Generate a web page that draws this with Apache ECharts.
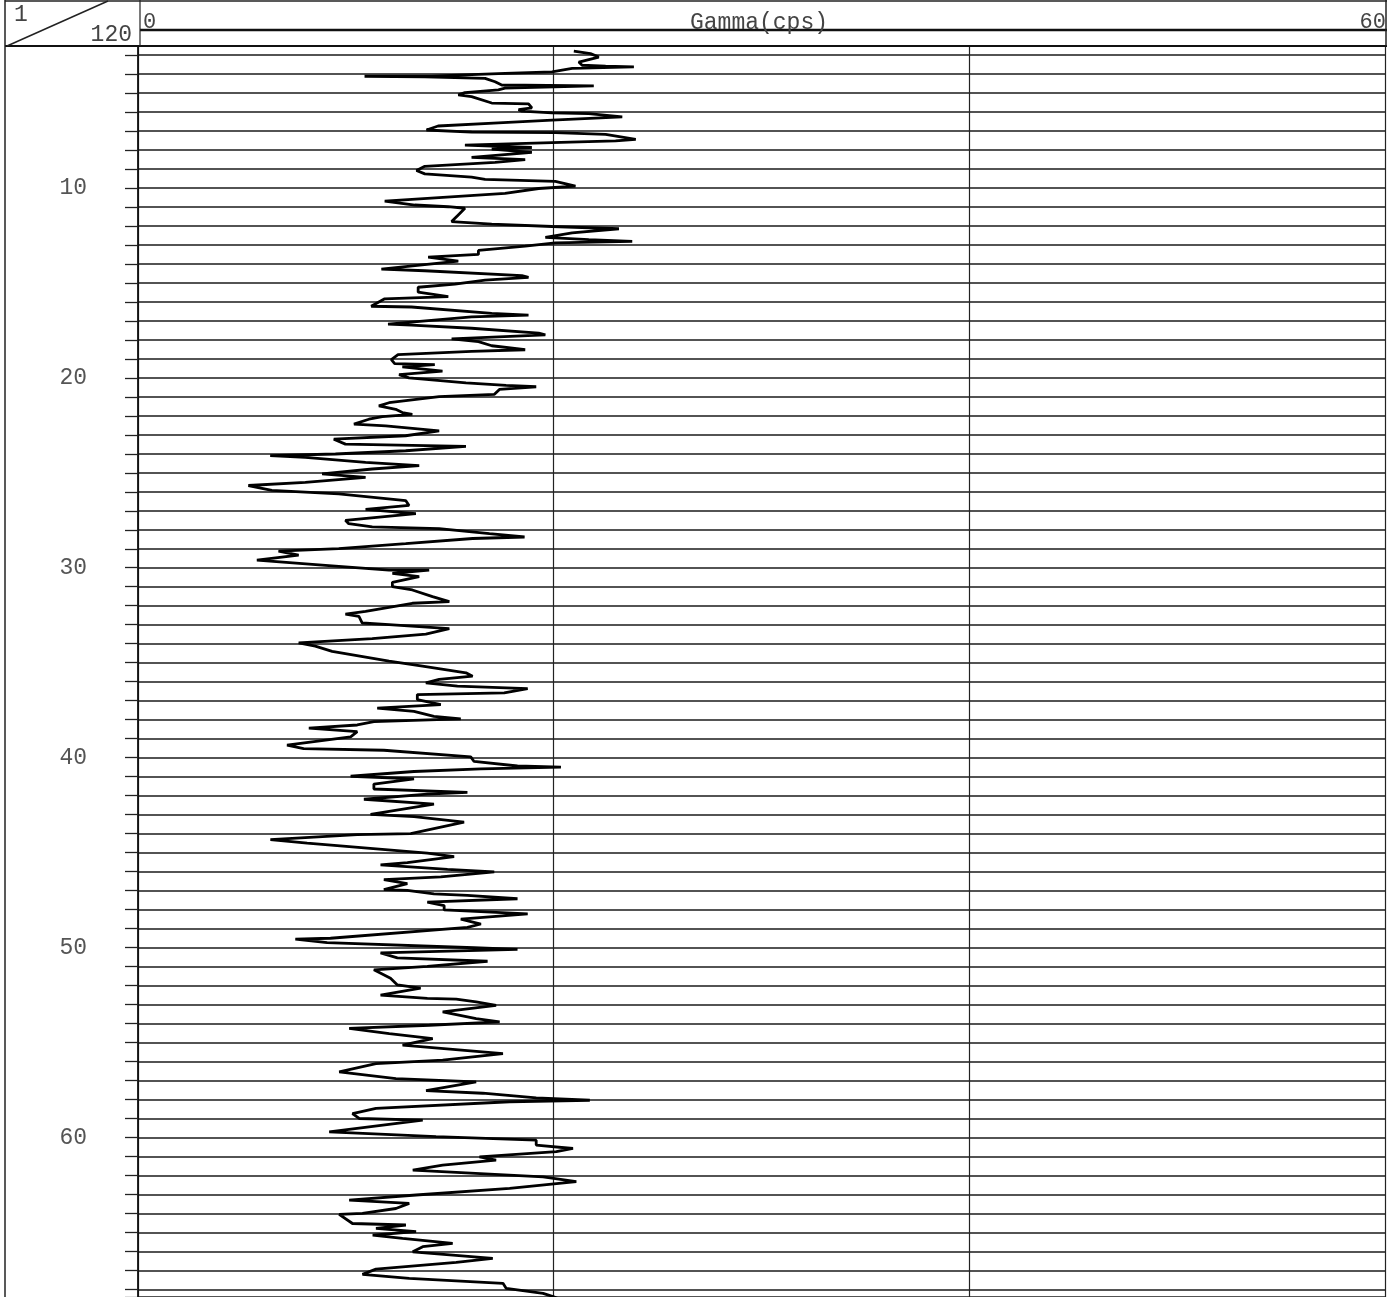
<!DOCTYPE html>
<html>
<head>
<meta charset="utf-8">
<title>Gamma log</title>
<script src="https://cdn.jsdelivr.net/npm/echarts/dist/echarts.min.js"></script>
<style>
  html, body { margin: 0; padding: 0; background: #fff; }
  #log_chart { width: 1391px; height: 1297px; }
</style>
</head>
<body>
<div id="log_chart"></div>
<script>
var depthM = [
  2.80, 2.93, 3.11, 3.37, 3.54, 3.59, 3.63, 3.71, 3.89, 3.97, 4.11, 4.12, 4.15, 4.23, 4.41, 4.58, 4.63, 4.75, 4.84, 4.98,
  5.10, 5.19, 5.53, 5.57, 5.79, 5.88, 5.96, 6.05, 6.09, 6.26, 6.43, 6.57, 6.74, 6.95, 7.06, 7.09, 7.18, 7.44, 7.52, 7.61,
  7.75, 7.87, 7.96, 8.13, 8.39, 8.51, 8.65, 8.86, 9.08, 9.26, 9.43, 9.55, 9.65, 9.90, 10.03, 10.29, 10.69, 10.90, 10.99, 11.07,
  11.42, 11.77, 11.91, 12.03, 12.15, 12.37, 12.60, 12.72, 12.81, 12.89, 13.07, 13.29, 13.50, 13.64, 13.85, 14.28, 14.36, 14.62, 14.71, 14.85,
  15.06, 15.23, 15.49, 15.72, 15.84, 16.23, 16.27, 16.61, 16.70, 16.79, 17.17, 17.22, 17.39, 17.65, 17.74, 17.95, 18.09, 18.31, 18.52, 18.61,
  18.78, 19.04, 19.25, 19.30, 19.35, 19.42, 19.65, 19.83, 20.00, 20.26, 20.40, 20.47, 20.61, 20.87, 20.99, 21.31, 21.48, 21.66, 21.83, 21.92,
  22.04, 22.18, 22.44, 22.53, 22.79, 23.05, 23.23, 23.49, 23.61, 23.84, 24.01, 24.10, 24.19, 24.45, 24.62, 24.80, 25.06, 25.24, 25.50, 25.67,
  25.93, 26.11, 26.46, 26.72, 26.93, 27.15, 27.50, 27.68, 27.85, 27.94, 28.20, 28.38, 28.46, 28.73, 28.99, 29.13, 29.34, 29.60, 29.86, 30.12,
  30.13, 30.30, 30.47, 30.77, 30.99, 31.17, 31.52, 31.78, 31.87, 32.30, 32.44, 32.56, 32.91, 33.00, 33.21, 33.49, 33.73, 33.96, 34.13, 34.40,
  34.92, 35.18, 35.53, 35.71, 35.88, 36.06, 36.23, 36.36, 36.59, 36.68, 36.94, 37.21, 37.39, 37.56, 37.83, 37.96, 38.10, 38.28, 38.45, 38.63,
  38.90, 39.34, 39.52, 39.61, 39.96, 40.20, 40.44, 40.50, 40.59, 40.73, 40.98, 41.12, 41.39, 41.65, 41.83, 41.92, 42.19, 42.45, 42.99, 43.11,
  43.40, 44.00, 44.05, 44.32, 44.50, 45.03, 45.21, 45.53, 45.65, 45.88, 46.01, 46.28, 46.42, 46.63, 46.95, 46.99, 47.17, 47.25, 47.43, 47.61,
  47.79, 48.02, 48.23, 48.50, 48.76, 48.94, 49.51, 49.56, 49.74, 50.01, 50.10, 50.28, 50.54, 50.72, 50.99, 51.17, 51.61, 51.97, 52.14, 52.50,
  52.68, 52.72, 52.86, 53.04, 53.39, 53.74, 53.91, 54.09, 54.26, 54.53, 54.79, 55.14, 55.58, 55.93, 56.11, 56.54, 56.90, 57.07, 57.53, 57.67,
  57.91, 58.04, 58.12, 58.47, 58.74, 59.00, 59.09, 59.70, 59.96, 60.14, 60.40, 60.58, 60.75, 61.02, 61.19, 61.46, 61.72, 62.07, 62.33, 62.68,
  63.03, 63.30, 63.47, 63.74, 64.00, 64.05, 64.53, 64.61, 64.79, 64.96, 65.14, 65.31, 65.58, 65.75, 66.02, 66.37, 66.58, 66.93, 67.21, 67.42,
  67.68, 67.95, 68.21, 68.38, 68.60
];
var gammaCps = [
  20.97, 21.77, 22.17, 21.21, 21.37, 22.5, 23.86, 20.89, 19.92, 17.66, 14.12, 10.9, 13.8, 16.7, 17.18, 17.5, 21.93, 17.66, 17.34, 15.73,
  15.41, 16.05, 17.02, 18.79, 18.95, 18.31, 18.47, 19.92, 21.69, 23.3, 19.92, 17.34, 14.44, 13.88, 16.05, 20.08, 22.5, 23.95, 22.98, 19.92,
  15.73, 18.95, 17.02, 18.95, 16.05, 18.63, 17.18, 13.8, 13.4, 13.8, 16.05, 16.7, 20.08, 21.05, 19.28, 17.66, 11.87, 13.32, 14.93, 15.73,
  15.41, 15.09, 17.02, 19.92, 23.14, 20.89, 19.6, 21.69, 23.78, 20.08, 18.63, 16.38, 16.38, 13.96, 15.41, 11.71, 13.8, 18.47, 18.79, 16.7,
  15.25, 13.48, 13.48, 14.93, 11.87, 11.22, 13.16, 17.02, 18.79, 16.05, 12.03, 13.16, 16.05, 19.28, 19.6, 15.09, 16.38, 17.02, 18.63, 16.05,
  12.51, 12.19, 12.35, 14.28, 14.33, 12.72, 14.65, 12.56, 13.04, 15.78, 17.71, 19.16, 17.39, 17.15, 14.49, 12.08, 11.59, 12.4, 12.72, 13.2,
  11.76, 11.11, 10.39, 11.92, 14.49, 12.88, 9.42, 9.98, 15.78, 12.88, 9.5, 6.36, 8.05, 10.95, 13.53, 11.27, 8.86, 10.95, 8.05, 5.31,
  6.44, 9.66, 12.88, 13.04, 10.95, 13.37, 9.98, 10.14, 11.27, 14.49, 16.91, 18.6, 16.1, 12.88, 9.66, 6.76, 7.73, 5.72, 8.86, 12.08,
  14.01, 12.24, 13.53, 12.24, 12.24, 13.2, 14.17, 14.98, 13.2, 10.95, 9.98, 10.63, 10.79, 12.08, 14.98, 13.85, 11.27, 7.73, 8.53, 9.34,
  12.08, 13.69, 15.78, 16.1, 14.49, 13.85, 15.37, 18.75, 17.62, 13.44, 13.44, 14.57, 11.51, 13.28, 14.24, 15.53, 11.35, 10.55, 8.22, 10.55,
  10.23, 7.17, 7.97, 11.83, 16.01, 16.17, 18.26, 20.35, 16.5, 13.28, 10.23, 13.28, 11.35, 11.35, 15.85, 13.92, 10.87, 14.24, 11.19, 13.28,
  15.69, 13.12, 10.55, 6.37, 8.14, 13.92, 15.21, 12.96, 11.67, 14.89, 17.14, 14.57, 11.83, 12.96, 11.83, 12.96, 14.24, 15.85, 18.26, 13.92,
  14.73, 14.73, 18.75, 15.53, 16.5, 15.85, 9.26, 7.57, 9.1, 16.17, 18.26, 11.67, 12.48, 16.82, 13.92, 11.35, 12.15, 12.48, 13.6, 11.67,
  13.92, 15.31, 16.27, 17.23, 14.66, 16.27, 17.4, 14.02, 10.16, 12.09, 14.18, 12.73, 17.56, 14.66, 11.45, 9.68, 12.41, 16.27, 13.86, 16.59,
  19.16, 21.74, 17.88, 11.45, 10.32, 10.64, 13.7, 9.2, 14.34, 19.16, 19.16, 20.93, 20.13, 16.43, 17.23, 14.66, 13.22, 19.49, 21.09, 17.88,
  13.38, 10.16, 13.05, 12.41, 10.8, 9.68, 10.32, 12.89, 11.45, 13.38, 11.29, 12.73, 15.14, 13.7, 13.22, 17.07, 15.31, 11.45, 10.8, 13.05,
  17.56, 17.72, 19.49, 19.97, 20.5
];
var depthRange = [2, 68.4];
var gammaRange = [0, 60];
var gammaStep = 20;
var depthLabels = [10, 20, 30, 40, 50, 60];
var scaleTop = '1';
var scaleBottom = '120';
var curveName = 'Gamma(cps)';

var monoFont = '"Liberation Mono", "DejaVu Sans Mono", monospace';
var chart = echarts.init(document.getElementById('log_chart'));

var points = depthM.map(function (d, i) {
  return [gammaCps[i], d];
});

// header band: scale box, curve name and scale ends
var headerGraphic = [
  {type: 'rect', z: 100, shape: {x: 0, y: 0, width: 1391, height: 46}, style: {fill: '#fff'}},
  {type: 'line', z: 101, shape: {x1: 5, y1: 1, x2: 1387, y2: 1}, style: {stroke: '#222', lineWidth: 1.5}},
  {type: 'line', z: 101, shape: {x1: 5, y1: 46, x2: 1387, y2: 46}, style: {stroke: '#111', lineWidth: 2}},
  {type: 'line', z: 101, shape: {x1: 140, y1: 30, x2: 1387, y2: 30}, style: {stroke: '#111', lineWidth: 2.5}},
  {type: 'line', z: 101, shape: {x1: 5, y1: 0, x2: 5, y2: 1297}, style: {stroke: '#222', lineWidth: 1.5}},
  {type: 'line', z: 101, shape: {x1: 140, y1: 0, x2: 140, y2: 46}, style: {stroke: '#222', lineWidth: 1.2}},
  {type: 'line', z: 101, shape: {x1: 1386, y1: 0, x2: 1386, y2: 46}, style: {stroke: '#222', lineWidth: 1.5}},
  {type: 'line', z: 101, shape: {x1: 7, y1: 46, x2: 108, y2: 1}, style: {stroke: '#222', lineWidth: 1.5}},
  {type: 'text', z: 102, x: 14, y: 3, style: {text: scaleTop, font: '23px ' + monoFont, fill: '#444'}},
  {type: 'text', z: 102, x: 132, y: 23, style: {text: scaleBottom, font: '23px ' + monoFont, fill: '#444', align: 'right'}},
  {type: 'text', z: 102, x: 143, y: 11, style: {text: String(gammaRange[0]), font: '22px ' + monoFont, fill: '#444'}},
  {type: 'text', z: 102, x: 759, y: 11, style: {text: curveName, font: '23px ' + monoFont, fill: '#444', align: 'center'}},
  {type: 'text', z: 102, x: 1386, y: 11, style: {text: String(gammaRange[1]), font: '22px ' + monoFont, fill: '#444', align: 'right'}}
];

var option = {
  animation: false,
  backgroundColor: '#fff',
  grid: {left: 138, right: 6, top: 36, bottom: 0, outerBoundsMode: 'none'},
  xAxis: {
    type: 'value',
    min: gammaRange[0],
    max: gammaRange[1],
    interval: gammaStep,
    axisLine: {show: false},
    axisTick: {show: false},
    axisLabel: {show: false},
    splitLine: {show: true, lineStyle: {color: '#222', width: 1.2}}
  },
  yAxis: {
    type: 'value',
    inverse: true,
    min: depthRange[0],
    max: depthRange[1],
    interval: 1,
    axisLine: {show: true, lineStyle: {color: '#111', width: 1.8}},
    axisTick: {show: true, length: 13, lineStyle: {color: '#222', width: 1.3}},
    axisLabel: {
      margin: 51,
      fontFamily: monoFont,
      fontSize: 23,
      color: '#555',
      formatter: function (v) {
        return depthLabels.indexOf(v) >= 0 ? String(v) : '';
      }
    },
    splitLine: {show: true, lineStyle: {color: '#1a1a1a', width: 1.6}}
  },
  series: [
    {
      name: curveName,
      type: 'line',
      data: points,
      showSymbol: false,
      lineStyle: {color: '#000', width: 2.8},
      z: 5
    }
  ],
  graphic: headerGraphic
};

chart.setOption(option);
</script>
</body>
</html>
